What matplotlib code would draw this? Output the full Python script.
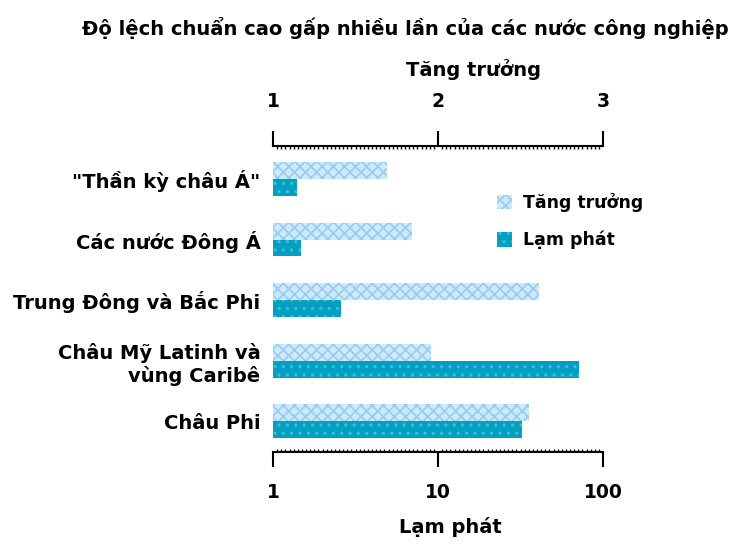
import numpy as np
import matplotlib
matplotlib.use("Agg")
import matplotlib.pyplot as plt
from matplotlib.ticker import FixedLocator, NullFormatter

plt.rcParams["font.family"] = ["DejaVu Sans"]
plt.rcParams["font.weight"] = "bold"
plt.rcParams["axes.labelweight"] = "bold"
plt.rcParams["hatch.linewidth"] = 1.2

# Data
regions = ['"Thần kỳ châu Á"', "Các nước Đông Á", "Trung Đông và Bắc Phi",
           "Châu Mỹ Latinh và\nvùng Caribê", "Châu Phi"]
growth = [1.69, 1.84, 2.61, 1.96, 2.55]       # top axis, linear
inflation = [1.39, 1.47, 2.58, 71.6, 32.2]    # bottom axis, log

title = "Độ lệch chuẩn cao gấp nhiều lần của các nước công nghiệp"
growth_ticks = [1, 2, 3]
inflation_ticks = [1, 10, 100]

light = "#c6eef8"
dark = "#039ec2"
fs = 14

fig = plt.figure(figsize=(7.29, 5.45), dpi=100)
ax = fig.add_axes([0.3745, 0.1706, 0.4527, 0.5615])
ax_top = ax.twiny()

y = np.arange(len(regions))
h = 0.28

ax.set_xscale("log")
ax.set_xlim(1, 100)
ax_top.set_xlim(1, 3)

b_inf = ax.barh(y + h / 2, [v - 1 for v in inflation], left=1, height=h,
                color=dark, edgecolor="#30c4cc", hatch="..", linewidth=0,
                label="Lạm phát")
b_gr = ax_top.barh(y - h / 2, [v - 1 for v in growth], left=1, height=h,
                   color=light, edgecolor="#a2c6f4", hatch="xxx", linewidth=0,
                   label="Tăng trưởng")

ax.set_ylim(4.51, -0.545)
ax.set_yticks(y)
ax.set_yticklabels(regions, fontsize=fs, ha="right", linespacing=1.2)
ax.tick_params(axis="y", length=0, pad=9)

for spine in ["left", "right"]:
    ax.spines[spine].set_visible(False)
    ax_top.spines[spine].set_visible(False)
ax.spines["top"].set_visible(False)
ax_top.spines["bottom"].set_visible(False)
ax.spines["bottom"].set_linewidth(1.5)
ax_top.spines["top"].set_linewidth(1.5)

# bottom axis (log)
ax.xaxis.set_major_locator(FixedLocator(inflation_ticks))
ax.set_xticklabels([str(t) for t in inflation_ticks], fontsize=13.5)
ax.xaxis.set_minor_locator(FixedLocator(10 ** np.arange(0, 2.0001, 0.025)))
ax.xaxis.set_minor_formatter(NullFormatter())
ax.tick_params(axis="x", which="major", direction="out", length=11,
               width=1.5, pad=11)
ax.tick_params(axis="x", which="minor", direction="in", length=2, width=1)
ax.set_xlabel("Lạm phát", fontsize=fs, labelpad=11, x=0.536, ha="center")

# top axis (linear)
ax_top.xaxis.set_major_locator(FixedLocator(growth_ticks))
ax_top.set_xticklabels([str(t) for t in growth_ticks], fontsize=13.5)
ax_top.xaxis.set_minor_locator(FixedLocator(np.arange(1, 3.0001, 0.025)))
ax_top.tick_params(axis="x", which="major", direction="out", length=11,
                   width=1.5, pad=14)
ax_top.tick_params(axis="x", which="minor", direction="in", length=2, width=1)
ax_top.set_xlabel("Tăng trưởng", fontsize=fs, labelpad=12, x=0.609,
                  ha="center")

fig.text(0.556, 0.948, title, fontsize=fs, ha="center", va="center")

fig.legend(handles=[b_gr, b_inf], loc="upper left",
           bbox_to_anchor=(0.66, 0.675), frameon=False, fontsize=12.5,
           handlelength=0.9, handleheight=0.9, handletextpad=0.6,
           labelspacing=1.1)

fig.savefig("out.png", dpi=100)
